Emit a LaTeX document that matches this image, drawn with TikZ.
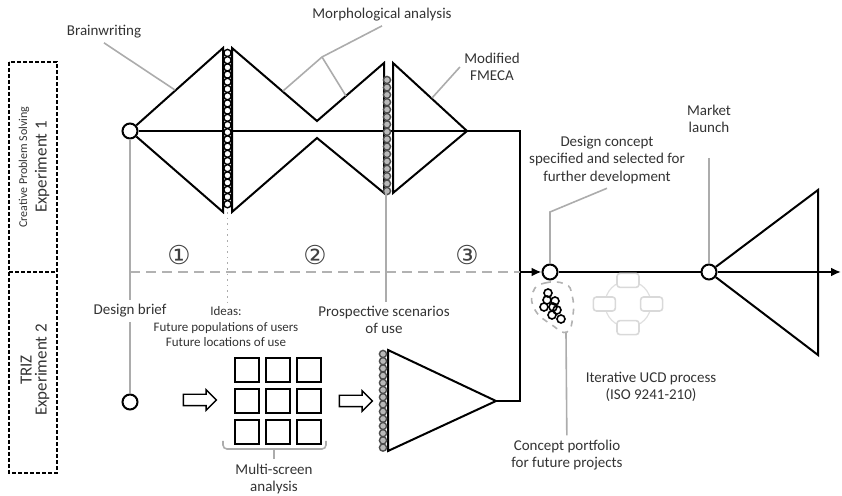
\documentclass[tikz,border=0pt]{standalone}
\usepackage{fontspec}
\setmainfont{Carlito}
\newfontfamily\symfont{DejaVu Sans}
\usetikzlibrary{arrows.meta,positioning,shapes.arrows}

\begin{document}
\begin{tikzpicture}[
    x=0.5pt, y=-0.5pt,
    font=\fontsize{7.5}{8.75}\selectfont,
    txt/.style={text=black!80, align=center, inner sep=2pt},
    line/.style={line width=1pt},
    leader/.style={draw=gray!65, line width=0.8pt},
    stage/.style={circle, draw, line width=1pt, fill=white, minimum size=7.5pt, inner sep=0pt},
    bead/.style={circle, draw, line width=0.7pt, fill=white, minimum size=3.6pt, inner sep=0pt},
    greybead/.style={bead, fill=gray!55, draw=black!70},
    seed/.style={circle, draw, line width=0.8pt, minimum size=4pt, inner sep=0pt},
    screen/.style={draw, line width=1pt, minimum size=12pt, inner sep=0pt},
    ucdbox/.style={draw=gray!30, line width=0.8pt, fill=white, rounded corners=1.5pt, minimum width=11pt, minimum height=7pt},
    hollow/.style={single arrow, draw, line width=0.7pt, fill=white, inner xsep=0pt, inner ysep=2.5pt, single arrow head extend=2.25pt, minimum height=16.5pt},
    expline/.style={dash pattern=on 2pt off 1pt, line width=0.9pt},
    explabel/.style={rotate=90, align=center, text=black!80, inner sep=0pt},
    num/.style={text=black!75, font=\symfont\fontsize{13}{13}\selectfont, inner sep=0pt},
    arrow/.style={line, -{Latex[length=5pt, width=4.5pt]}}
  ]
    \useasboundingbox (0,0) rectangle (842,496);

    % experiments
    \draw[expline] (9,62) rectangle (57,473);
    \draw[expline] (9,272) -- (57,272);
    \node[explabel] (exp1) at (34,167) {{\fontsize{6}{7}\selectfont Creative Problem Solving}\\[1pt]{\fontsize{8.5}{10}\selectfont Experiment 1}};
    \node[explabel, font=\fontsize{8.5}{7.5}\selectfont] (exp2) at (35,370) {TRIZ\\Experiment 2};

    % stages
    \node[stage] (start) at (130,131) {};
    \node[stage] (brief) at (130,402) {};
    \node[stage] (concept) at (550,272) {};
    \node[stage] (launch) at (709,272) {};

    \coordinate (a1) at (223,48);  \coordinate (a2) at (223,212);
    \coordinate (b1) at (232,48);  \coordinate (b2) at (232,212);
    \coordinate (v1) at (317,121); \coordinate (v2) at (317,138);
    \coordinate (c1) at (384,63);  \coordinate (c2) at (384,193);
    \coordinate (d1) at (393,63);  \coordinate (d2) at (393,193);
    \coordinate (tip) at (467,131);
    \coordinate (turn) at (520,131); \coordinate (join) at (520,401);
    \coordinate (t1) at (388,350); \coordinate (t2) at (388,451); \coordinate (t3) at (496,401);
    \coordinate (m1) at (818,190); \coordinate (m2) at (818,355);
    \coordinate (dash0) at (130,272); \coordinate (dash1) at (520,272);
    \coordinate (end) at (841,272);

    \draw[line] (start) -- (a1) -- (a2) -- (start);
    \draw[line] (b1) -- (v1) -- (c1) -- (c2) -- (v2) -- (b2) -- cycle;
    \draw[line] (d1) -- (tip) -- (d2) -- cycle;
    \draw[line] (start) -- (turn) -- (join) -- (t3);
    \draw[line] (t1) -- (t3) -- (t2) -- cycle;

    \foreach \i in {0,...,21} \node[bead] at (227.5,53+\i*7.2) {};
    \foreach \i in {0,...,15} \node[greybead] at (387,80+\i*7.4) {};
    \foreach \i in {0,...,13} \node[greybead] at (383,354+\i*7.2) {};

    \draw[gray!60, line width=1.3pt, dash pattern=on 5pt off 3pt] (dash0) -- (dash1);
    \draw[arrow] (dash1) -- (concept);
    \draw[line] (concept) -- (launch);
    \draw[arrow] (launch) -- (end);
    \draw[line] (launch) -- (m1) -- (m2) -- (launch);

    \node[num] (n1) at (179,255) {①};
    \node[num] (n2) at (315,255) {②};
    \node[num] (n3) at (467,255) {③};

    % labels
    \node[txt] (brain) at (104,32) {Brainwriting};
    \node[txt] (morph) at (382,15) {Morphological analysis};
    \node[txt] (fmeca) at (492,67) {Modified\\FMECA};
    \node[txt] (dcl) at (607,160) {Design concept\\specified and selected for\\further development};
    \node[txt] (mkt) at (709,119) {Market\\launch};
    \node[txt] (dbr) at (130,311) {Design brief};
    \node[txt, font=\fontsize{6.5}{7.75}\selectfont] (ideas) at (226,327) {Ideas:\\Future populations of users\\Future locations of use};
    \node[txt] (scen) at (384,320) {Prospective scenarios\\of use};
    \node[txt] (msa) at (274,479) {Multi-screen\\analysis};
    \node[txt] (port) at (567,455) {Concept portfolio\\for future projects};
    \node[txt] (ucdl) at (651,387) {Iterative UCD process\\(ISO 9241-210)};

    % leaders
    \coordinate (bw) at (175,90);
    \draw[leader] (brain.south) -- (bw);
    \coordinate (mj) at (322,57); \coordinate (ml) at (283,91); \coordinate (mr) at (346,96);
    \draw[leader] (morph.south) -- (mj) -- (ml);
    \draw[leader] (mj) -- (mr);
    \coordinate (fm) at (432,98);
    \draw[leader] (fmeca.west) -- (fm);
    \coordinate (dk) at (550,212);
    \draw[leader] (dcl.south) -- (dk) -- (concept);
    \coordinate (mk) at (709,158);
    \draw[leader] (mk) -- (launch);
    \draw[leader] (start) -- (dbr);
    \draw[leader] (dbr) -- (brief);
    \coordinate (i0) at (227.5,212);
    \draw[leader, dotted] (i0) -- (i0 |- ideas.north);
    \coordinate (s0) at (386,193);
    \draw[leader] (s0) -- (s0 |- scen.north);

    % multi-screen
    \node[hollow] (arrA) at (197,400) {};
    \foreach \col in {0,1,2} \foreach \row in {0,1,2}
      \node[screen] (s\col\row) at (247+\col*31,370+\row*31) {};
    \node[hollow] (arrB) at (353,401) {};
    \draw[leader, rounded corners=2pt] (223,441) -- (223,449) -- (326,449) -- (326,441);
    \coordinate (brc) at (274,449);
    \draw[leader] (brc) -- (msa);

    % portfolio
    \draw[gray!60, dashed, line width=0.8pt] plot[smooth cycle, tension=0.8] coordinates {(533,292) (545,283) (565,284) (572,295) (573,315) (567,332) (552,325) (535,310)};
    \foreach \p in {(548,293),(547,300),(555,301),(544,307),(553,307),(557,310),(552,315),(561,319)}
      \node[seed] at \p {};
    \coordinate (pt) at (566,333);
    \draw[leader] (pt) -- (port);

    % iterative UCD
    \node[circle, draw=gray!25, line width=0.6pt, minimum size=23pt, inner sep=0pt] (ucd) at (628,304) {};
    \node[ucdbox] (u1) at (ucd.north) {};
    \node[ucdbox] (u2) at (ucd.west) {};
    \node[ucdbox] (u3) at (ucd.east) {};
    \node[ucdbox] (u4) at (ucd.south) {};
  \end{tikzpicture}
\end{document}
